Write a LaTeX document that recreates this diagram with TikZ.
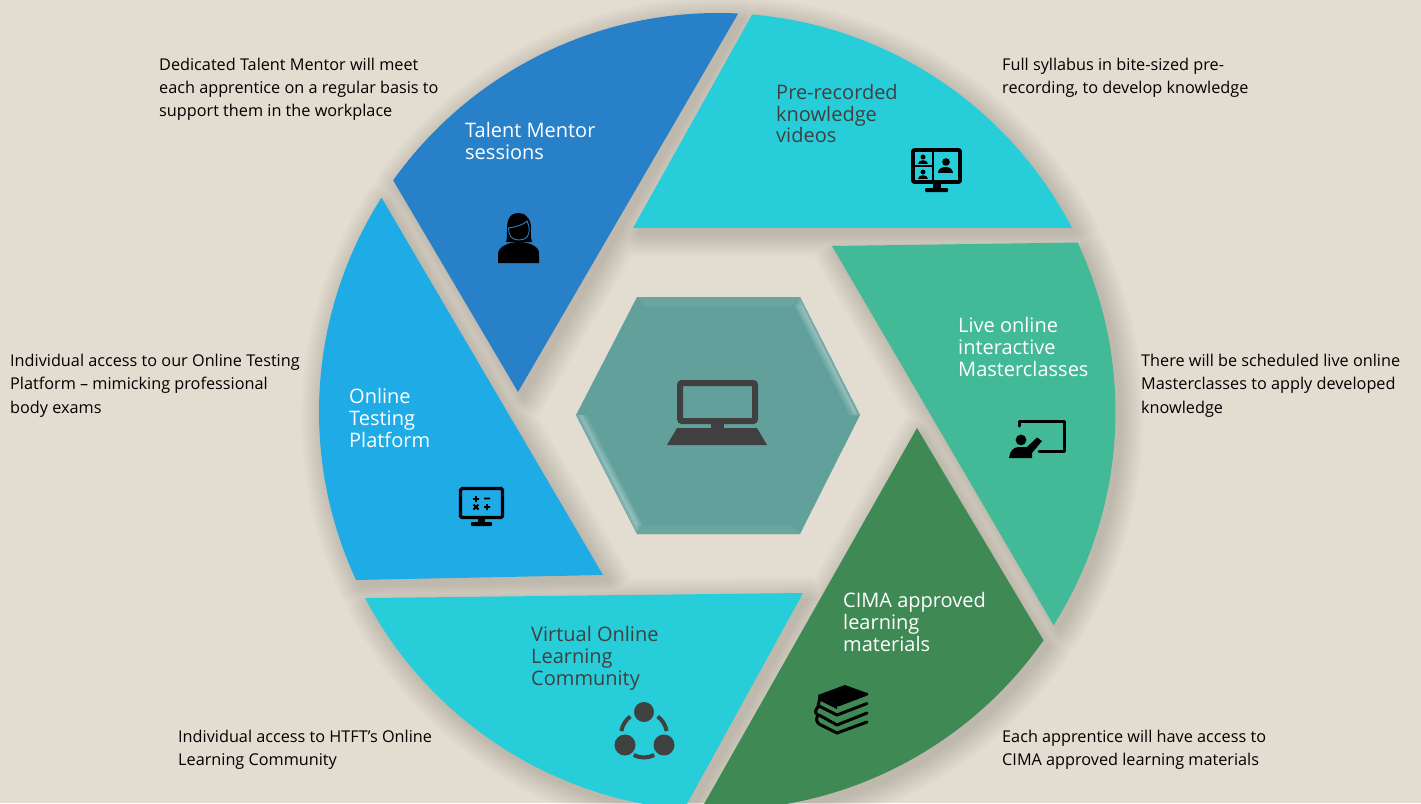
\documentclass[tikz,border=0pt]{standalone}
\usepackage{fontspec}
\setmainfont{Open Sans}
\definecolor{bgc}{HTML}{E3DDD1}
\definecolor{talentc}{HTML}{2780C8}
\definecolor{cyanc}{HTML}{27CEDA}
\definecolor{livec}{HTML}{42B997}
\definecolor{cimac}{HTML}{3F8955}
\definecolor{onlinec}{HTML}{1EABE6}
\definecolor{hexc}{HTML}{62A09C}
\definecolor{darkc}{HTML}{404040}
\tikzset{
  desc/.style={anchor=north west,inner sep=0pt,align=left,text=black,font=\fontsize{16.25}{23.3}\selectfont,execute at begin node={\rule{0pt}{14pt}}},
  segt/.style={anchor=north west,inner sep=0pt,align=left,font=\fontsize{20}{21.8}\selectfont,execute at begin node={\rule{0pt}{16pt}}},
  wht/.style={segt,text=white},
  drk/.style={segt,text=darkc},
  icn/.style={line cap=round,line join=round}
}
\newcommand{\segA}{(718pt,412pt)+(-87.1:399pt) arc[start angle=-87.1,end angle=-144.5,radius=399pt] -- (518,392) -- cycle}
\newcommand{\segB}{(718pt,412pt)+(-85.1:399pt) arc[start angle=-85.1,end angle=-27.5,radius=399pt] -- (633,228) -- cycle}
\newcommand{\segC}{(717.5pt,412pt)+(-25.2:398pt) arc[start angle=-25.2,end angle=32.4,radius=398pt] -- (832,246) -- cycle}
\newcommand{\segD}{(717.5pt,412pt)+(35:398pt) arc[start angle=35,end angle=92.4,radius=398pt] -- (917,428) -- cycle}
\newcommand{\segE}{(718pt,412pt)+(94.9:399pt) arc[start angle=94.9,end angle=152.2,radius=399pt] -- (803,593) -- cycle}
\newcommand{\segF}{(718pt,412pt)+(212.5:399pt) arc[start angle=212.5,end angle=155.1,radius=399pt] -- (603,575) -- cycle}
\begin{document}
\begin{tikzpicture}[x=1pt,y=1pt,yscale=-1]
\useasboundingbox (0,0) rectangle (1421,803);
\clip (0,0) rectangle (1421,803);
\fill[bgc] (0,0) rectangle (1421,803);
% soft shadows
\begin{scope}[shift={(5,6)}]
\foreach \w in {46,42,38,34,30,26,22,18,14,10,6,2}{
  \begin{scope}[transparency group,opacity=.0105]
    \foreach \s in {\segA,\segB,\segC,\segD,\segE,\segF}{
      \path[draw=black,fill=black,line width=\w pt,line join=round] \s;
    }
  \end{scope}
}
\end{scope}
% segments
\fill[talentc] \segA;
\fill[cyanc] \segB;
\fill[livec] \segC;
\fill[cimac] \segD;
\fill[cyanc] \segE;
\fill[onlinec] \segF;
% hexagon
\fill[hexc] (576,415) -- (637,297) -- (800,297) -- (860,415) -- (800,534) -- (637,534) -- cycle;
\fill[hexc!95!white] (637,297) -- (800,297) -- (792,306) -- (645,306) -- cycle;
\fill[hexc!95!white] (637,534) -- (800,534) -- (792,526) -- (642,526) -- cycle;
\fill[hexc!90!white] (800,297) -- (860,415) -- (850,415) -- (795,306) -- cycle;
\fill[hexc!80!white] (801,301) -- (858,415) -- (853,415) -- (797,306) -- cycle;
\fill[hexc!70!white] (802,305) -- (856,412) -- (855,415) -- (800,306) -- cycle;
\fill[hexc!90!white] (576,415) -- (637,534) -- (642,524) -- (586,415) -- cycle;
\fill[hexc!80!white] (578,415) -- (636,531) -- (640,524) -- (583,415) -- cycle;
\fill[hexc!70!white] (580,415) -- (636,527) -- (638,524) -- (581,415) -- cycle;
% laptop icon
\draw[darkc,line width=6pt,rounded corners=2pt] (680,383) rectangle (755,421);
\fill[darkc] (711,423) rectangle (724,429);
\fill[darkc] (677,428) -- (757,428) -- (767,445) -- (667,445) -- cycle;
% video call icon
\begin{scope}[icn]
\draw[black,line width=3.6pt,rounded corners=1pt] (913,150) rectangle (960,182);
\draw[black,line width=2.8pt] (933,150) -- (933,182) (913,166) -- (933,166);
\fill[black] (933,183) rectangle (941,189);
\fill[black,rounded corners=1pt] (925,188) rectangle (948,192);
\fill[black] (946,162) circle[radius=3.8pt];
\fill[black] (938,173) .. controls (938,165) and (953,165) .. (953,173) -- cycle;
\fill[black] (923,157) circle[radius=2.5pt];
\fill[black] (918,164) .. controls (918,159) and (928,159) .. (928,164) -- cycle;
\fill[black] (923,172) circle[radius=2.5pt];
\fill[black] (918,179) .. controls (918,174) and (928,174) .. (928,179) -- cycle;
\end{scope}
% mentor icon
\fill[black] (519,213) .. controls (508,213) and (507,222) .. (507,230) .. controls (507,236) and (507,240) .. (506,242) -- (532,242) .. controls (530,236) and (531,232) .. (531,228) .. controls (531,224) and (530,219) .. (527,217) .. controls (525,214) and (522,213) .. (519,213) -- cycle;
\fill[black] (498,263) -- (498,253) .. controls (499,246) and (510,242) .. (519,242) .. controls (528,242) and (539,246) .. (539,253) -- (539,263) -- cycle;
\draw[talentc,line width=.9pt] (508.5,228) .. controls (516,227) and (523,225) .. (527,221) .. controls (530,227) and (530,233) .. (527,237) .. controls (524,241) and (514,241) .. (511,237) .. controls (509,234) and (508.5,231) .. (508.5,228) -- cycle;
% presenter icon
\draw[black,line width=3pt,line join=round,line cap=round] (1019,426) -- (1019,421.5) -- (1064.5,421.5) -- (1064.5,451) -- (1039,451);
\fill[black] (1021,440) circle[radius=5.4pt];
\fill[black] (1009,458) .. controls (1010,451) and (1013,447) .. (1019,447) -- (1027,447) -- (1037,437.5) -- (1042,441) -- (1032,453) -- (1032,458) -- cycle;
% calculator screen icon
\draw[black,line width=3.2pt,rounded corners=1.5pt] (460.5,488.5) rectangle (502.5,517.5);
\fill[black] (478,519) rectangle (485,524);
\fill[black,rounded corners=.8pt] (471,522) rectangle (492,526);
\draw[black,line width=1.9pt] (473,499) -- (479,499) (476,496) -- (476,502) (484,498.5) -- (490,498.5) (473.5,504.5) -- (478.5,509.5) (473.5,509.5) -- (478.5,504.5) (484,507) -- (490,507) (487,504) -- (487,510);
% books icon
\begin{scope}[icn]
\fill[black] (818,695) -- (845,685) -- (867,693) -- (837,705) -- cycle;
\fill[black] (818,695) -- (837,705) -- (837,709) -- (819,700) -- cycle;
\draw[black,line width=3pt] (820,697) -- (818,707) (838,705) -- (867,694) (867,703.5) -- (837,715) -- (819,706);
\draw[black,line width=3pt] (867,713) -- (837,725) -- (819,715);
\draw[black,line width=3pt] (867,722) -- (837,733) -- (819,724) (819,706) .. controls (814,711) and (815,713) .. (818,715) (818,715) .. controls (816,719) and (816,721) .. (819,724);
\end{scope}
% community icon
\fill[darkc] (644,712) circle[radius=10pt];
\fill[darkc] (625,745) circle[radius=10.5pt];
\fill[darkc] (664,745) circle[radius=10.5pt];
\coordinate (ringc) at (644,735);
\draw[darkc,line width=4pt] (ringc)+(-126.4:23pt) arc[start angle=-126.4,end angle=-170,radius=23pt];
\draw[darkc,line width=4pt] (ringc)+(-53.6:23pt) arc[start angle=-53.6,end angle=-10,radius=23pt];
\draw[darkc,line width=4pt] (ringc)+(63:22.5pt) arc[start angle=63,end angle=117,radius=22.5pt];
% segment labels
\node[wht] (tTalent) at (465,122.5) {Talent Mentor\\sessions};
\node[drk] (tVideo) at (776,84) {Pre-recorded\\knowledge\\videos};
\node[wht] (tLive) at (958,317) {Live online\\interactive\\Masterclasses};
\node[wht] (tCima) at (843,592.5) {CIMA approved\\learning\\materials};
\node[drk] (tVirtual) at (531,626) {Virtual Online\\Learning\\Community};
\node[wht] (tOnline) at (349,388) {Online\\Testing\\Platform};
% descriptions
\node[desc] (dTalent) at (159,57.5) {Dedicated Talent Mentor will meet\\each apprentice on a regular basis to\\support them in the workplace};
\node[desc] (dVideo) at (1002,57.5) {Full syllabus in bite-sized pre-\\recording, to develop knowledge};
\node[desc] (dLive) at (1141,354) {There will be scheduled live online\\Masterclasses to apply developed\\knowledge};
\node[desc] (dCima) at (1002,729.5) {Each apprentice will have access to\\CIMA approved learning materials};
\node[desc] (dVirtual) at (178,729.5) {Individual access to HTFT’s Online\\Learning Community};
\node[desc] (dOnline) at (10,354) {Individual access to our Online Testing\\Platform – mimicking professional\\body exams};
\end{tikzpicture}
\end{document}
